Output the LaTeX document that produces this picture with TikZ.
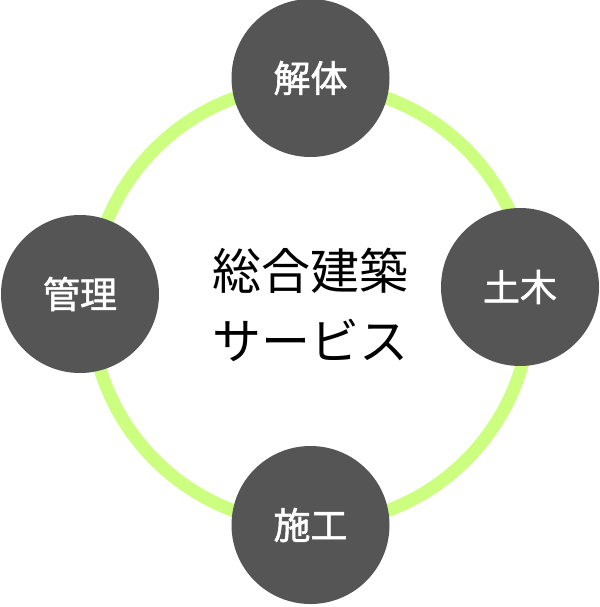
\documentclass[tikz,border=0pt]{standalone}
\usepackage{fontspec}
\newfontfamily\jp{Noto Sans CJK JP}
\newfontfamily\jpb{Noto Sans CJK JP}[FakeBold=1.5]
\definecolor{ringgreen}{RGB}{204,255,128}
\definecolor{nodegray}{RGB}{85,85,85}
\tikzset{
  svc/.style={circle, fill=nodegray, minimum size=158pt, inner sep=0pt, text=white, font=\jpb\fontsize{37}{40}\selectfont},
  ring/.style={draw=ringgreen, line width=13pt},
  hub/.style={align=center, text=black, font=\jp\fontsize{49}{70}\selectfont}
}
\begin{document}
\begin{tikzpicture}[x=1pt,y=-1pt]
\useasboundingbox (0,0) rectangle (599,607);
\coordinate (c) at (310.5,304.5);
\draw[ring] (c) circle[radius=220];
\node[svc] (kaitai) at (310.5,78) {解体};
\node[svc] (doboku) at (520,287) {土木};
\node[svc] (sekou) at (310.5,525) {施工};
\node[svc] (kanri) at (80,294) {管理};
\node[hub] (center) at (310,305) {総合建築\\サービス};
\end{tikzpicture}
\end{document}
